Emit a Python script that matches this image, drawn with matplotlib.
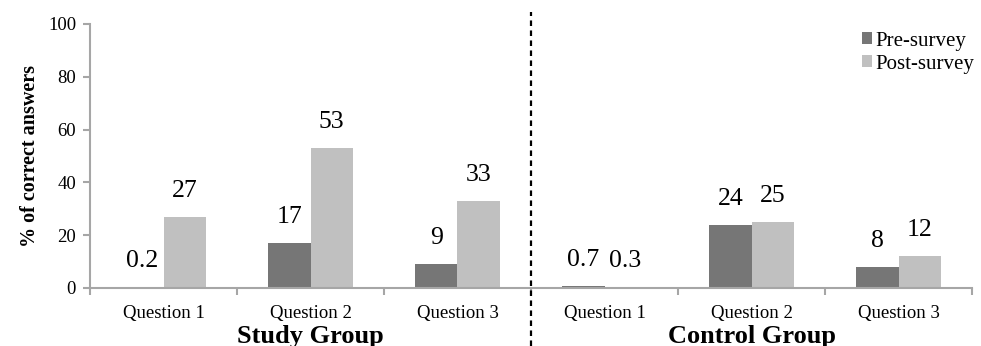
import numpy as np
import matplotlib.pyplot as plt

# Data
categories = ['Question 1', 'Question 2', 'Question 3',
              'Question 1', 'Question 2', 'Question 3']
groups = ['Study Group', 'Control Group']
pre_survey = [0.2, 17, 9, 0.7, 24, 8]
post_survey = [27, 53, 33, 0.3, 25, 12]
pre_labels = ['0.2', '17', '9', '0.7', '24', '8']
post_labels = ['27', '53', '33', '0.3', '25', '12']

plt.rcParams['font.family'] = ['Liberation Serif', 'DejaVu Serif']

fig = plt.figure(figsize=(9.81, 3.46), dpi=100)
ax = fig.add_axes([90 / 981, 58 / 346, 882 / 981, 264 / 346])

x = np.arange(len(categories))
w = 0.286
dark = '#767676'
light = '#c0c0c0'
b1 = ax.bar(x - w / 2, pre_survey, w, color=dark, label='Pre-survey')
b2 = ax.bar(x + w / 2, post_survey, w, color=light, label='Post-survey')

# value labels above the bars
for bars, labels in [(b1, pre_labels), (b2, post_labels)]:
    for rect, lab in zip(bars, labels):
        ax.annotate(lab, (rect.get_x() + rect.get_width() / 2, rect.get_height()),
                    xytext=(0, 14.4), textcoords='offset points',
                    ha='center', va='baseline', fontsize=18.5)

ax.set_xlim(-0.5, len(categories) - 0.5)
ax.set_ylim(0, 100)
ax.set_yticks([0, 20, 40, 60, 80, 100])
ax.set_xticks(np.arange(-0.5, len(categories), 1.0))
ax.set_xticklabels([])
ax.set_xticks(x, minor=True)
ax.set_xticklabels(categories, minor=True)
ax.tick_params(axis='x', which='major', direction='out', length=5, width=1.5, color='#a6a6a6')
ax.tick_params(axis='x', which='minor', length=0, labelsize=13.5, pad=12)
ax.tick_params(axis='y', direction='out', length=5, width=1.5, color='#a6a6a6', labelsize=13.5, pad=5)

for s in ['top', 'right']:
    ax.spines[s].set_visible(False)
for s in ['left', 'bottom']:
    ax.spines[s].set_color('#a6a6a6')
    ax.spines[s].set_linewidth(1.5)

ax.set_ylabel('% of correct answers', fontsize=14.5, fontweight='bold', labelpad=6)

# group labels under the x axis
ax.text(1, -0.183, groups[0], transform=ax.get_xaxis_transform(),
        ha='center', va='center', fontsize=19, fontweight='bold')
ax.text(4, -0.183, groups[1], transform=ax.get_xaxis_transform(),
        ha='center', va='center', fontsize=19, fontweight='bold')

# dashed separator between groups
ax.axvline(2.5, ymin=-0.22, ymax=1.045, color='black', linestyle=(0, (2.5, 2)),
           linewidth=1.6, clip_on=False)

ax.legend(loc='upper right', bbox_to_anchor=(1.012, 1.003), frameon=False,
          fontsize=15, handlelength=0.5, handleheight=0.5, handletextpad=0.15,
          labelspacing=0.2, borderaxespad=0)

fig.savefig('out.png', dpi=100)
